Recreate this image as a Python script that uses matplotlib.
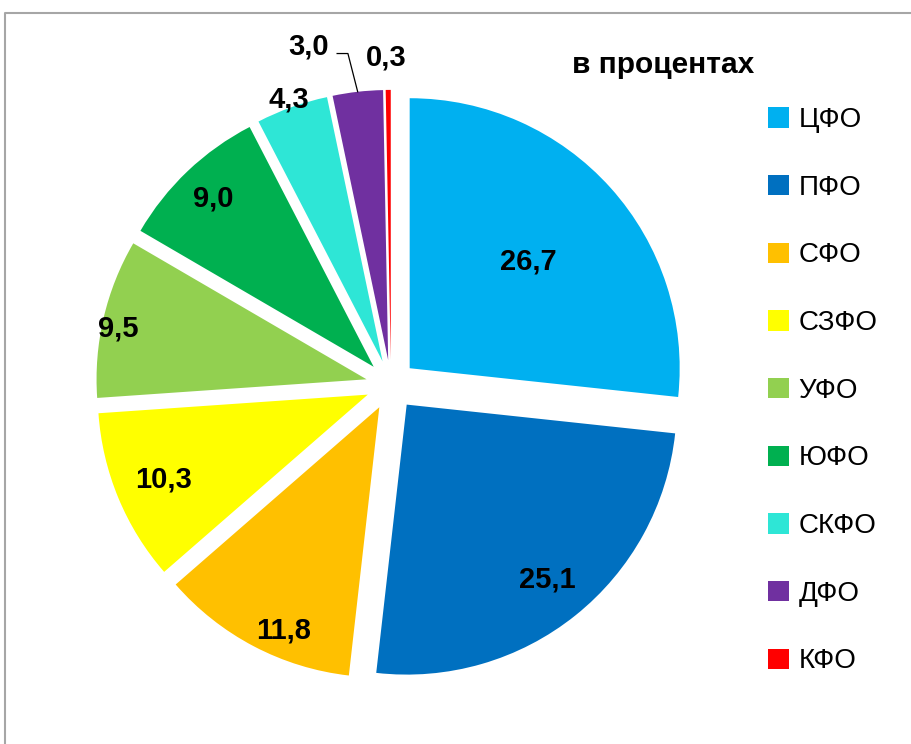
import numpy as np
import matplotlib
matplotlib.use('Agg')
import matplotlib.pyplot as plt
from matplotlib.lines import Line2D

# данные
regions = ['ЦФО', 'ПФО', 'СФО', 'СЗФО', 'УФО', 'ЮФО', 'СКФО', 'ДФО', 'КФО']
shares = [26.7, 25.1, 11.8, 10.3, 9.5, 9.0, 4.3, 3.0, 0.3]
colors = ['#00B0F0', '#0070C0', '#FFC000', '#FFFF00', '#92D050',
          '#00B050', '#2EE6D6', '#7030A0', '#FF0000']
title_text = 'в процентах'

# подписи: расстояние от центра (доля радиуса) и сдвиг угла (град.)
label_dist = [0.59, 0.83, 0.90, 0.82, 0.94, 0.86, 1.03, 1.20, 1.12]
label_shift = [0, 0, 4.4, 0, 1.5, 0, 0, 7.8, 0.3]
EXPLODE = 0.093

plt.rcParams['font.family'] = ['Liberation Sans', 'DejaVu Sans']

W, H = 912, 744
fig = plt.figure(figsize=(W / 100, H / 100), dpi=100)

# пирог: центр (391, 385) px, радиус 270 px
L = 1.3
S = 270 * L
cx, cy = 391, 385
ax = fig.add_axes([(cx - S) / W, (H - cy - S) / H, 2 * S / W, 2 * S / H])

wedges, _ = ax.pie(shares, colors=colors, startangle=90, counterclock=False,
                   explode=[EXPLODE] * len(shares),
                   wedgeprops=dict(linewidth=0))
ax.set_xlim(-L, L)
ax.set_ylim(-L, L)
ax.axis('off')

for i, w in enumerate(wedges):
    mid = (w.theta1 + w.theta2) / 2
    ox, oy = w.center
    ang = np.deg2rad(mid + label_shift[i])
    lx = ox + label_dist[i] * np.cos(ang)
    ly = oy + label_dist[i] * np.sin(ang)
    txt = f'{shares[i]:.1f}'.replace('.', ',')
    ax.text(lx, ly, txt, ha='center', va='center', fontsize=21,
            fontweight='bold', color='black')
    if i == 7:
        # выноска для 3,0
        m = np.deg2rad(mid)
        x0, y0 = ox + np.cos(m), oy + np.sin(m)
        x1, y1 = ox + 1.145 * np.cos(m + np.deg2rad(1)), oy + 1.145 * np.sin(m + np.deg2rad(1))
        ax.plot([x0, x1, x1 - 0.04], [y0, y1, y1], color='black', lw=0.9,
                clip_on=False)

fig.text(663 / W, 1 - 65 / H, title_text, ha='center', va='center',
         fontsize=21.5, fontweight='bold')

fig.legend(wedges, regions, loc='upper left', bbox_to_anchor=(757 / W, 1 - 96 / H),
           frameon=False, fontsize=20, handlelength=0.75, handleheight=0.75,
           handletextpad=0.35, labelspacing=1.5, borderaxespad=0)

# рамка
fig.add_artist(Line2D([5 / W, 5 / W, 1], [0, 1 - 13 / H, 1 - 13 / H],
                      transform=fig.transFigure, color='#A6A6A6', lw=1.5))

fig.savefig('out.png', dpi=100)
